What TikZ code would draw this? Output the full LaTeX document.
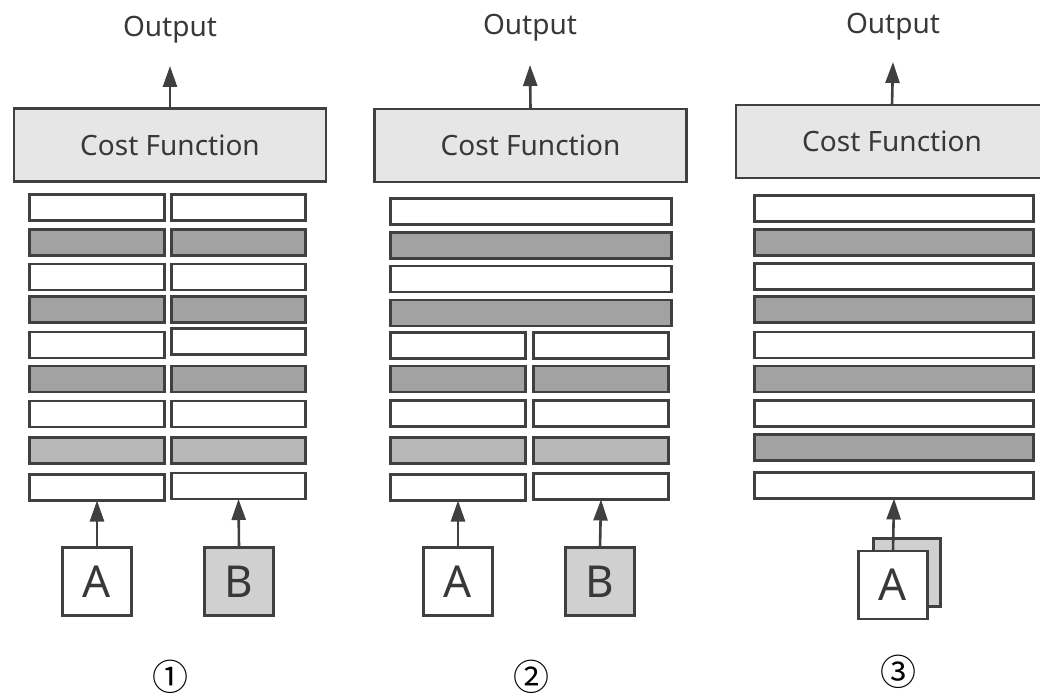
\documentclass[tikz,border=0pt]{standalone}
\usepackage{fontspec}
\usetikzlibrary{arrows.meta}
\newfontfamily\lab{Noto Sans}
\newfontfamily\cjk{Noto Sans CJK SC}
\definecolor{edge}{HTML}{404040}
\definecolor{txt}{HTML}{383838}
\definecolor{dkfill}{HTML}{A2A2A2}
\definecolor{ltfill}{HTML}{B8B8B8}
\definecolor{costfill}{HTML}{E6E6E6}
\definecolor{infill}{HTML}{D0D0D0}
\tikzset{
  box/.style={draw=edge, line width=2.6pt, rectangle, inner sep=0pt, outer sep=0pt},
  wl/.style={box, fill=white, minimum height=26pt},
  dl/.style={box, fill=dkfill, minimum height=26pt},
  ll/.style={box, fill=ltfill, minimum height=26pt},
  cost/.style={box, fill=costfill, minimum width=312pt, minimum height=73pt,
    font=\lab\fontsize{28}{32}\selectfont, text=txt},
  outlbl/.style={font=\lab\fontsize{28}{32}\selectfont, text=txt, inner sep=0pt},
  inbox/.style={box, minimum width=69pt, minimum height=68pt,
    font=\lab\fontsize{44}{48}\selectfont, text=txt},
  num/.style={font=\cjk\fontsize{36}{38}\selectfont, text=black, inner sep=0pt},
  arr/.style={draw=edge, line width=2.6pt, -{Triangle[length=21pt,width=14pt]}}
}
\begin{document}
\begin{tikzpicture}[x=1pt,y=-1pt]
\useasboundingbox (0,0) rectangle (1040,695);

% ---------- panel 1: two separate stacks ----------
\node[cost] (c1) at (170,145) {Cost Function};
\node[outlbl] (o1) at (170,30) {Output};
\coordinate (t1) at (170,66);
\draw[arr] (c1.north) -- (t1);
\foreach \y/\s [count=\i] in {207.5/wl,242.5/dl,277/wl,309.5/dl,345/wl,379/dl,414/wl,450.5/ll,487.5/wl}
  \node[\s, minimum width=135pt] (p1a\i) at (97,\y) {};
\foreach \y/\s [count=\i] in {207.5/wl,242.5/dl,277/wl,309.5/dl,341.5/wl,379/dl,414/wl,450.5/ll,486/wl}
  \node[\s, minimum width=134pt] (p1b\i) at (238.5,\y) {};
\node[inbox, fill=white] (A1) at (97,581.5) {A};
\node[inbox, fill=infill] (B1) at (239,581.5) {B};
\draw[arr] (A1.north) -- (p1a9.south);
\draw[arr] (B1.north) -- (p1b9.south);
\node[num] (n1) at (170,677) {①};

% ---------- panel 2: shared upper layers ----------
\node[cost] (c2) at (530.5,145.5) {Cost Function};
\node[outlbl] (o2) at (530,28) {Output};
\coordinate (t2) at (530,65);
\draw[arr] (c2.north) -- (t2);
\foreach \y/\s [count=\i] in {211.5/wl,245.5/dl,279/wl,313/dl}
  \node[\s, minimum width=281pt] (p2s\i) at (531,\y) {};
\foreach \y/\s [count=\i] in {345.5/wl,379/dl,413.5/wl,450.5/ll,487.5/wl}
  \node[\s, minimum width=135pt] (p2a\i) at (458,\y) {};
\foreach \y/\s [count=\i] in {345.5/wl,379/dl,413.5/wl,450.5/ll,486.5/wl}
  \node[\s, minimum width=135pt] (p2b\i) at (601,\y) {};
\node[inbox, fill=white] (A2) at (458,581.5) {A};
\node[inbox, fill=infill] (B2) at (600,581.5) {B};
\draw[arr] (A2.north) -- (p2a5.south);
\draw[arr] (B2.north) -- (p2b5.south);
\node[num] (n2) at (531,677) {②};

% ---------- panel 3: one shared stack ----------
\node[cost] (c3) at (892,141.5) {Cost Function};
\node[outlbl] (o3) at (893,27) {Output};
\coordinate (t3) at (893,62);
\draw[arr] (c3.north) -- (t3);
\foreach \y/\s [count=\i] in {208.5/wl,242.5/dl,276.5/wl,309.5/dl,345/wl,379/dl,413.5/wl,447.5/dl,485.5/wl}
  \node[\s, minimum width=279pt] (p3s\i) at (894,\y) {};
\node[inbox, fill=infill, minimum width=67pt] (A3b) at (907,572.5) {};
\node[inbox, fill=white] (A3) at (893,585) {A};
\draw[arr] (A3.north) -- (p3s9.south);
\node[num] (n3) at (898,672) {③};
\end{tikzpicture}
\end{document}
